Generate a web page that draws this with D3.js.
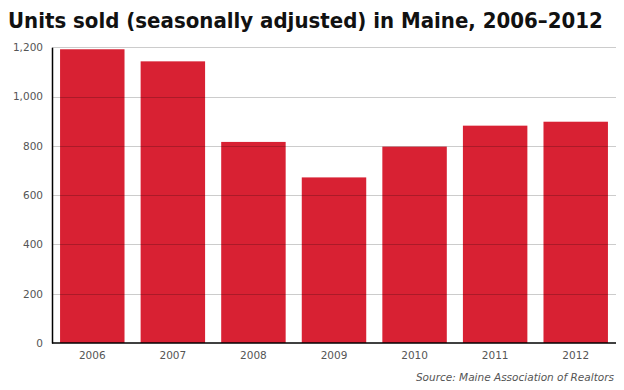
<!DOCTYPE html>
<html><head><meta charset="utf-8">
<script src="https://cdn.jsdelivr.net/npm/d3@7"></script>
<style>body{margin:0;background:#fff}svg{display:block}</style>
</head><body>
<script>
const years = ["2006","2007","2008","2009","2010","2011","2012"];
const units = [1192, 1143, 816, 672, 797, 882, 898];
const yTicks = [0, 200, 400, 600, 800, 1000, 1200];
const title = "Units sold (seasonally adjusted) in Maine, 2006\u20132012";
const source = "Source: Maine Association of Realtors";

const W = 624, H = 390;
const m = {left: 52, right: 8, top: 47.3, bottom: 47};
const svg = d3.select("body").append("svg").attr("width", W).attr("height", H);

const x = d3.scaleBand().domain(years).range([m.left, W - m.right]).paddingInner(0.2).paddingOuter(0.1);
const y = d3.scaleLinear().domain([0, 1200]).range([343, m.top]);

svg.append("text").attr("x", 8).attr("y", 28)
  .attr("font-family", "DejaVu Sans Condensed, DejaVu Sans, Verdana, sans-serif").attr("font-weight", "bold")
  .attr("font-size", 22).attr("fill", "#111")
  .text(title);

svg.append("g").selectAll("rect").data(years).join("rect")
  .attr("x", d => x(d)).attr("width", x.bandwidth())
  .attr("y", (d, i) => y(units[i])).attr("height", (d, i) => y(0) - y(units[i]))
  .attr("fill", "#d82133");

// gridlines over bars
svg.append("g").selectAll("line").data(yTicks.filter(t => t > 0)).join("line")
  .attr("x1", m.left).attr("x2", 616).attr("y1", d => Math.round(y(d)) + 0.5).attr("y2", d => Math.round(y(d)) + 0.5)
  .attr("stroke", "#000").attr("stroke-opacity", 0.2).attr("stroke-width", 1.2);

const yAxis = svg.append("g").attr("transform", `translate(${m.left},0)`)
  .call(d3.axisLeft(y).tickValues(yTicks).tickSize(0).tickPadding(9).tickFormat(d3.format(",")));
yAxis.select(".domain").attr("stroke", "#000").attr("stroke-width", 1.5);
yAxis.selectAll("text").attr("font-family", "DejaVu Sans, Verdana, sans-serif").attr("font-size", 10.5).attr("fill", "#555");

const xAxis = svg.append("g").attr("transform", `translate(0,343)`)
  .call(d3.axisBottom(x).tickSize(0).tickPadding(9));
xAxis.select(".domain").attr("d", `M${m.left},0H616`).attr("stroke", "#000").attr("stroke-width", 1.5);
xAxis.selectAll("text").attr("font-family", "DejaVu Sans, Verdana, sans-serif").attr("font-size", 10.5).attr("fill", "#555");

svg.append("text").attr("x", 614).attr("y", 381).attr("text-anchor", "end")
  .attr("font-family", "DejaVu Sans, Verdana, sans-serif").attr("font-style", "italic")
  .attr("font-size", 10.5).attr("fill", "#555").text(source);
</script>
</body></html>
